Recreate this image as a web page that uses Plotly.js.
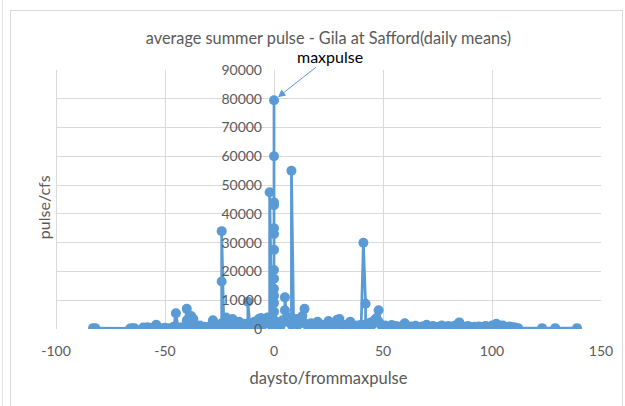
<!DOCTYPE html>
<html>
<head>
<meta charset="utf-8">
<script src="https://cdn.plot.ly/plotly-3.0.1.min.js"></script>
<style>
  html, body { margin: 0; padding: 0; background: #fff; }
  #wrap { position: relative; width: 625px; height: 406px; overflow: hidden; }
  #frame { position: absolute; left: 10px; top: 10px; width: 611px; height: 420px; border: 1px solid #d9d9d9; }
  #edge { position: absolute; left: 2px; top: 0; width: 0; height: 406px; border-left: 1px solid #e3e3e3; }
  #chart { position: absolute; left: 0; top: 0; width: 625px; height: 406px; }
</style>
</head>
<body>
<div id="wrap">
  <div id="edge"></div>
  <div id="frame"></div>
  <div id="chart"></div>
</div>
<script>
// Days to/from the max pulse (sorted), and the daily mean flow (cfs)
const days = [
  -83,-82,-66,-65,-64,-60,-58,-56,-54,-52,-50,-48,-46,-45,-44,-44,-43,-42,-41,-40,-40,-39,-38,-38,-37,-36,-35,-34,-33,-32,-31,-30,-29,-28,-27,-26,-25,
  -24,-24,-24,-23,-22,-21,-20,-19,-18,-17,-16,-15,-14,-13,-12,-12,-11,-10,-9,-8,-7,-6,-5,-4,-3,-2,-2,-1,-1,
  0,0,0,0,0,0,0,0,0,0,0,0,0,0,
  1,2,3,4,5,5,6,7,8,8,9,10,11,12,13,14,14,
  15,16,17,18,19,20,21,22,23,24,25,26,27,28,29,30,31,32,33,34,35,36,37,38,39,40,
  41,42,42,43,44,45,46,47,48,48,49,50,
  51,52,53,54,55,56,57,58,59,60,61,62,63,64,65,66,67,68,69,70,
  71,72,73,74,75,76,77,78,79,80,81,82,83,84,85,86,87,88,89,90,
  91,92,93,94,95,96,97,98,99,100,101,102,103,104,105,106,107,108,109,110,111,112,
  123,129,139
];
const flows = [
  300,300,200,300,250,500,600,400,1500,300,400,300,800,5500,500,300,400,600,300,7000,3000,1500,4500,800,3500,1000,600,1200,500,800,400,600,1200,3000,800,500,1500,
  2000,16500,34000,800,4000,2500,1500,3500,1200,800,2500,1500,600,1800,1000,9500,800,1500,2500,1200,3500,3800,1500,2500,4000,3000,47500,2000,1000,
  3000,9000,14000,17500,20500,27500,33000,35000,43000,44000,60000,79500,11500,6000,
  2500,1500,1000,3000,6500,11000,2500,4000,1500,55000,2000,3500,1500,2500,4500,7000,2000,
  1500,800,2000,600,1200,2500,900,1500,700,1200,2800,1000,600,1800,3200,3500,1200,800,1500,700,2500,1000,600,1200,800,1500,
  30000,8800,1500,1000,2200,1500,3000,3800,2500,6500,1500,800,
  1200,600,900,1400,700,1000,500,800,1200,2000,700,500,900,600,1100,400,700,900,500,1500,
  800,600,1000,700,500,900,1200,600,800,1000,700,900,1100,1500,2300,1200,800,600,1000,700,
  500,800,600,900,700,500,1000,800,600,1200,900,1800,1300,900,1200,700,600,900,500,600,400,300,
  300,300,300
];
const xTicks = [-100, -50, 0, 50, 100, 150];
const yTicks = [0, 10000, 20000, 30000, 40000, 50000, 60000, 70000, 80000, 90000];

const blue = '#5B9BD5';
const grey = '#595959';
const gridColor = '#d9d9d9';
const font = 'Lato, "Open Sans", sans-serif';

const trace = {
  type: 'scatter',
  mode: 'lines+markers',
  x: days,
  y: flows,
  line: { color: blue, width: 2.75 },
  marker: { color: blue, size: 10 },
  hoverinfo: 'x+y'
};

// crisp vertical gridlines at the x ticks (half-pixel offset so the 1px line is sharp)
const vGrid = xTicks.map(v => ({
  type: 'line', layer: 'below',
  xref: 'x', yref: 'paper',
  xsizemode: 'pixel', xanchor: v,
  x0: 0.5, x1: 0.5, y0: 0, y1: 1,
  line: { color: gridColor, width: 1 }
}));

const layout = {
  width: 625,
  height: 406,
  margin: { l: 56, r: 24, t: 70, b: 77 },
  paper_bgcolor: 'rgba(0,0,0,0)',
  plot_bgcolor: 'rgba(0,0,0,0)',
  showlegend: false,
  font: { family: font, color: grey, size: 14 },
  title: {
    text: 'average summer pulse - Gila at Safford(daily means)',
    font: { family: font, size: 16.3, color: grey },
    xref: 'paper', x: 0.5, xanchor: 'center',
    yref: 'container', y: 0.905, yanchor: 'middle'
  },
  xaxis: {
    range: [-100, 150],
    tickvals: xTicks,
    ticktext: xTicks.map(String),
    showgrid: false,
    zeroline: false,
    showline: false,
    ticks: '',
    ticklabelstandoff: 12,
    tickfont: { family: font, size: 14, color: grey },
    title: { text: 'daysto/frommaxpulse', font: { family: font, size: 16.5, color: grey }, standoff: 14 },
    fixedrange: true
  },
  yaxis: {
    range: [0, 90000],
    tickvals: yTicks,
    ticktext: yTicks.map(String),
    anchor: 'free',
    position: 0.4,
    showgrid: true,
    gridcolor: gridColor,
    gridwidth: 1,
    zeroline: false,
    showline: false,
    ticks: '',
    ticklabelstandoff: 12,
    tickfont: { family: font, size: 14, color: grey },
    fixedrange: true
  },
  shapes: vGrid,
  annotations: [
    {
      text: 'pulse/cfs',
      xref: 'paper', yref: 'paper',
      x: -0.003, y: 0.47,
      xanchor: 'right', yanchor: 'middle',
      textangle: -90,
      showarrow: false,
      font: { family: font, size: 16, color: grey }
    },
    {
      text: 'maxpulse',
      xref: 'x', yref: 'y',
      x: 0, y: 79500,
      ax: 56, ay: -44,
      showarrow: true,
      arrowhead: 2,
      arrowsize: 1.5,
      arrowwidth: 1,
      arrowcolor: blue,
      standoff: 5,
      font: { family: font, size: 16, color: '#000000' }
    }
  ]
};

Plotly.newPlot('chart', [trace], layout, { displayModeBar: false, staticPlot: true });
</script>
</body>
</html>
